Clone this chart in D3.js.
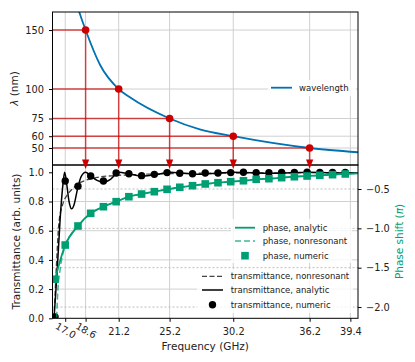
<!DOCTYPE html>
<html><head><meta charset="utf-8">
<script src="https://cdn.jsdelivr.net/npm/d3@7"></script>
<style>body{margin:0;background:#fff} svg{display:block;font-family:"DejaVu Sans",sans-serif}</style>
</head><body><svg id="c" width="415" height="362"></svg>
<script>
// ---- data ----
const xTicks = [17.0, 18.6, 21.2, 25.2, 30.2, 36.2, 39.4];
const lambdaTicks = [150, 100, 75, 60, 50];
const transTicks = [0.0, 0.2, 0.4, 0.6, 0.8, 1.0];
const phaseTicks = [-2.0, -1.5, -1.0, -0.5];
const resonanceFreq = [18.6, 21.2, 25.2, 30.2, 36.2];
const resonanceLambda = [150, 100, 75, 60, 50];
const wavelengthFreq = [17.9, 18.1, 18.6, 19.73, 21.2, 22.08, 25.2, 27.57, 30.2, 36.2, 40];
const wavelengthVal  = [172, 165.3, 150, 120.6, 100, 93, 75, 65.8, 60, 50, 46.4];
const numFreq = [16.2,17,18,19,20,21,22,23,24,25,26,27,28,29,30,31,32,33,34,35,36,37,38,39];
const transNumeric = [0.01,0.94,0.905,0.975,0.94,0.995,0.99,0.977,0.986,0.998,0.993,0.99,0.995,0.995,0.998,1.0,0.997,0.997,0.999,0.999,1.0,0.999,0.999,0.999];
const phaseNumeric = [-1.647,-1.212,-0.970,-0.809,-0.725,-0.661,-0.598,-0.564,-0.534,-0.504,-0.478,-0.458,-0.436,-0.42,-0.407,-0.395,-0.377,-0.369,-0.356,-0.344,-0.335,-0.326,-0.318,-0.309];
const transAnalyticFreq = [16.12,16.35,16.6,16.8,16.95,17.1,17.3,17.5,17.7,17.95,18.25,18.6,19.0,19.5,20.0,20.6,21.2,22.0,23.0,24.2,25.2,26.5,27.7,29,30.2,33.2,36.2,38.2,40];
const transAnalytic = [0,0.3,0.68,0.9,1.0,0.93,0.8,0.75,0.78,0.88,0.97,1.0,0.975,0.945,0.932,0.955,1.0,0.99,0.975,0.985,1.0,0.992,0.987,0.994,1.0,0.993,1.0,0.996,0.997];
const transNonresFreq = [16.12,16.3,16.5,16.8,17.2,17.6,18.0,18.6,19.5,21,23,26,30,35,40];
const transNonres = [0,0.35,0.65,0.78,0.85,0.89,0.92,0.945,0.965,0.978,0.986,0.992,0.995,0.997,0.998];
const phaseAnalyticFreq = [16.2,17,18,19,20,21,22,23,24,25,26,27,28,29,30,31,32,33,34,35,36,37,38,39,40];
const phaseAnalytic = [-1.647,-1.212,-0.970,-0.809,-0.725,-0.661,-0.598,-0.564,-0.534,-0.504,-0.478,-0.458,-0.436,-0.42,-0.407,-0.395,-0.377,-0.369,-0.356,-0.344,-0.335,-0.326,-0.318,-0.309,-0.300];
const phaseNonresFreq = [16.3,16.4,16.6,17.0,17.5,18,19,20,21,22,23,24,25,26,27,28,30,32,34,36,38,40];
const phaseNonres = [-2.25,-1.85,-1.52,-1.22,-1.07,-0.97,-0.81,-0.725,-0.66,-0.6,-0.562,-0.532,-0.505,-0.48,-0.458,-0.438,-0.407,-0.378,-0.356,-0.335,-0.318,-0.3];

// ---- layout ----
const W = 415, H = 362;
const L = 52.5, R = 358, T1 = 12, B1 = 165, B2 = 318.3;
const GREEN = "#009E73", BLUE = "#0072B2", RED = "#cc0000";

const svg = d3.select("#c");
const x = d3.scaleLinear().domain([16, 40]).range([L, R]);
const yL = d3.scaleLinear().domain([35.6, 165.3]).range([B1, T1]);
const yT = d3.scaleLinear().domain([0, 1.05]).range([B2, B1]);
const yP = d3.scaleLinear().domain([-2.143, -0.195]).range([B2, B1]);

const defs = svg.append("defs");
defs.append("clipPath").attr("id","clipTop").append("rect").attr("x",L).attr("y",T1).attr("width",R-L).attr("height",B1-T1);
defs.append("clipPath").attr("id","clipBot").append("rect").attr("x",L).attr("y",B1).attr("width",R-L).attr("height",B2-B1);

const gridCol = "#d0d0d0";
// ---- top panel grid ----
const gTop = svg.append("g");
gTop.selectAll(".vg").data(xTicks).join("line")
  .attr("x1", d=>x(d)).attr("x2", d=>x(d)).attr("y1", T1).attr("y2", B1)
  .attr("stroke", gridCol).attr("stroke-width", 1);
gTop.selectAll(".hg").data(lambdaTicks).join("line")
  .attr("x1", L).attr("x2", R).attr("y1", d=>yL(d)).attr("y2", d=>yL(d))
  .attr("stroke", gridCol).attr("stroke-width", 1);

// ---- bottom panel grid ----
const gBot = svg.append("g");
gBot.selectAll(".vg").data(xTicks).join("line")
  .attr("x1", d=>x(d)).attr("x2", d=>x(d)).attr("y1", B1).attr("y2", B2)
  .attr("stroke", gridCol).attr("stroke-width", 1);
gBot.selectAll(".hg").data(transTicks.slice(1,5)).join("line")
  .attr("x1", L).attr("x2", R).attr("y1", d=>yT(d)).attr("y2", d=>yT(d))
  .attr("stroke", gridCol).attr("stroke-width", 1);
gBot.selectAll(".pg").data(phaseTicks).join("line")
  .attr("x1", L).attr("x2", R).attr("y1", d=>yP(d)).attr("y2", d=>yP(d))
  .attr("stroke", "#bdbdbd").attr("stroke-width", 1).attr("stroke-dasharray", "2,2");

// ---- top panel content ----
const topC = svg.append("g").attr("clip-path", "url(#clipTop)");
const wl = wavelengthFreq.map((f,i)=>[f, wavelengthVal[i]]);
topC.append("path").datum(wl)
  .attr("d", d3.line().x(d=>x(d[0])).y(d=>yL(d[1])).curve(d3.curveMonotoneX))
  .attr("fill","none").attr("stroke", BLUE).attr("stroke-width", 1.8);

// red guide lines
const res = resonanceFreq.map((f,i)=>({f, l: resonanceLambda[i]}));
const arrowTip = yT(1.022);
svg.append("g").selectAll("line").data(res).join("line")
  .attr("x1", L).attr("x2", d=>x(d.f)).attr("y1", d=>yL(d.l)).attr("y2", d=>yL(d.l))
  .attr("stroke", RED).attr("stroke-width", 1.5).attr("stroke-opacity", 0.7);
svg.append("g").selectAll("line").data(res).join("line")
  .attr("x1", d=>x(d.f)).attr("x2", d=>x(d.f)).attr("y1", d=>yL(d.l)).attr("y2", arrowTip - 6)
  .attr("stroke", RED).attr("stroke-width", 1.5).attr("stroke-opacity", 0.7);

// top legend
svg.append("rect").attr("x", 268).attr("y", 80).attr("width", 88).attr("height", 16).attr("fill", "#fff").attr("opacity", 0.85);
svg.append("line").attr("x1", 271).attr("x2", 292).attr("y1", 87.7).attr("y2", 87.7).attr("stroke", BLUE).attr("stroke-width", 1.8);
svg.append("text").attr("x", 299).attr("y", 87.7).attr("dy", "0.35em").attr("font-size", 8.5).attr("fill", "#222").text("wavelength");

// ---- bottom panel content ----
const botC = svg.append("g").attr("clip-path", "url(#clipBot)");
const lineT = d3.line().x(d=>x(d[0])).y(d=>yT(d[1])).curve(d3.curveMonotoneX);
const lineP = d3.line().x(d=>x(d[0])).y(d=>yP(d[1])).curve(d3.curveMonotoneX);

botC.append("path").datum(transNonresFreq.map((f,i)=>[f, transNonres[i]]))
  .attr("d", lineT).attr("fill","none").attr("stroke","#444").attr("stroke-width",1.3).attr("stroke-dasharray","5,2.5");
botC.append("path").datum(transAnalyticFreq.map((f,i)=>[f, transAnalytic[i]]))
  .attr("d", lineT).attr("fill","none").attr("stroke","#000").attr("stroke-width",1.5);
botC.selectAll(".circ").data(numFreq.map((f,i)=>[f, transNumeric[i]])).join("circle")
  .attr("cx", d=>x(d[0])).attr("cy", d=>yT(d[1])).attr("r", 3.7).attr("fill", "#000");

botC.append("path").datum(phaseNonresFreq.map((f,i)=>[f, phaseNonres[i]]))
  .attr("d", lineP).attr("fill","none").attr("stroke", GREEN).attr("stroke-opacity",0.75).attr("stroke-width",1.5).attr("stroke-dasharray","6,3");
botC.append("path").datum(phaseAnalyticFreq.map((f,i)=>[f, phaseAnalytic[i]]))
  .attr("d", lineP).attr("fill","none").attr("stroke", GREEN).attr("stroke-width",1.8);
botC.selectAll(".sq").data(numFreq.map((f,i)=>[f, phaseNumeric[i]])).join("rect")
  .attr("x", d=>x(d[0])-3.8).attr("y", d=>yP(d[1])-3.8).attr("width", 7.6).attr("height", 7.6).attr("fill", GREEN);

// ---- legends bottom ----
svg.append("rect").attr("x", 231).attr("y", 219).attr("width", 121).attr("height", 44).attr("fill","#fff").attr("opacity",0.8);
svg.append("rect").attr("x", 197).attr("y", 269).attr("width", 156).attr("height", 44).attr("fill","#fff").attr("opacity",0.8);
const leg1 = [
  {label:"phase, analytic", y:227.7, type:"solid"},
  {label:"phase, nonresonant", y:241, type:"dash"},
  {label:"phase, numeric", y:255.7, type:"square"}
];
const lg1 = svg.append("g");
leg1.forEach(e=>{
  if (e.type==="solid") lg1.append("line").attr("x1",235).attr("x2",255).attr("y1",e.y).attr("y2",e.y).attr("stroke",GREEN).attr("stroke-width",1.8);
  if (e.type==="dash") lg1.append("line").attr("x1",235).attr("x2",255).attr("y1",e.y).attr("y2",e.y).attr("stroke",GREEN).attr("stroke-opacity",0.75).attr("stroke-width",1.5).attr("stroke-dasharray","6,3");
  if (e.type==="square") lg1.append("rect").attr("x",245-3.8).attr("y",e.y-3.8).attr("width",7.6).attr("height",7.6).attr("fill",GREEN);
  lg1.append("text").attr("x",262.7).attr("y",e.y).attr("dy","0.35em").attr("font-size",8.5).attr("fill","#222").text(e.label);
});
const leg2 = [
  {label:"transmittance, nonresonant", y:276.3, type:"dash"},
  {label:"transmittance, analytic", y:290, type:"solid"},
  {label:"transmittance, numeric", y:304.7, type:"circle"}
];
const lg2 = svg.append("g");
leg2.forEach(e=>{
  if (e.type==="solid") lg2.append("line").attr("x1",202).attr("x2",223).attr("y1",e.y).attr("y2",e.y).attr("stroke","#000").attr("stroke-width",1.5);
  if (e.type==="dash") lg2.append("line").attr("x1",202).attr("x2",223).attr("y1",e.y).attr("y2",e.y).attr("stroke","#444").attr("stroke-width",1.3).attr("stroke-dasharray","5,2.5");
  if (e.type==="circle") lg2.append("circle").attr("cx",212.5).attr("cy",e.y).attr("r",3.7).attr("fill","#000");
  lg2.append("text").attr("x",230.7).attr("y",e.y).attr("dy","0.35em").attr("font-size",8.5).attr("fill","#222").text(e.label);
});

// ---- spines ----
svg.append("rect").attr("x",L).attr("y",T1).attr("width",R-L).attr("height",B1-T1).attr("fill","none").attr("stroke","#000").attr("stroke-width",1);
svg.append("rect").attr("x",L).attr("y",B1).attr("width",R-L).attr("height",B2-B1).attr("fill","none").attr("stroke","#000").attr("stroke-width",1);

// red points and arrows on top
svg.append("g").selectAll("circle").data(res).join("circle")
  .attr("cx", d=>x(d.f)).attr("cy", d=>yL(d.l)).attr("r", 3.8).attr("fill", RED);
svg.append("g").selectAll("path").data(res).join("path")
  .attr("d", d=>`M${x(d.f)-3.6},${arrowTip-9.5}L${x(d.f)+3.6},${arrowTip-9.5}L${x(d.f)},${arrowTip}Z`)
  .attr("fill", RED);

// ---- axes ----
function styleAxis(g){
  g.select(".domain").remove();
  g.selectAll("line").attr("stroke","#000").attr("stroke-width",1);
  g.selectAll("text").attr("font-size",9.8).attr("fill","#222").attr("font-family","DejaVu Sans, sans-serif");
}
svg.append("g").attr("transform",`translate(${L},0)`)
  .call(d3.axisLeft(yL).tickValues(lambdaTicks).tickSize(3.5).tickPadding(5).tickFormat(d3.format("d")))
  .call(styleAxis);
svg.append("g").attr("transform",`translate(${L},0)`)
  .call(d3.axisLeft(yT).tickValues(transTicks).tickSize(3.5).tickPadding(5).tickFormat(d3.format(".1f")))
  .call(styleAxis);
svg.append("g").attr("transform",`translate(${R},0)`)
  .call(d3.axisRight(yP).tickValues(phaseTicks).tickSize(3.5).tickPadding(4.5).tickFormat(d3.format(".1f")))
  .call(styleAxis);
const xAx = svg.append("g").attr("transform",`translate(0,${B2})`)
  .call(d3.axisBottom(x).tickValues(xTicks).tickSize(3.5).tickPadding(6).tickFormat(d3.format(".1f")))
  .call(styleAxis);
xAx.selectAll(".tick").filter(d=>d===17.0||d===18.6).select("text")
  .attr("y", 12.2).attr("dy","0.35em").attr("text-anchor","middle")
  .attr("transform","rotate(30,0,12.2)");

// ---- labels ----
svg.append("text").attr("transform","translate(14,88.5) rotate(-90)").attr("text-anchor","middle").attr("dy","0.35em")
  .attr("font-size",10.5).attr("fill","#222")
  .call(t=>{t.append("tspan").attr("font-style","italic").text("λ"); t.append("tspan").text(" (nm)");});
svg.append("text").attr("transform","translate(16,241.5) rotate(-90)").attr("text-anchor","middle").attr("dy","0.35em")
  .attr("font-size",10.5).attr("fill","#222").text("Transmittance (arb. units)");
svg.append("text").attr("transform","translate(399,241.5) rotate(-90)").attr("text-anchor","middle").attr("dy","0.35em")
  .attr("font-size",10.5).attr("fill",GREEN)
  .call(t=>{t.append("tspan").text("Phase shift ("); t.append("tspan").attr("font-style","italic").text("π"); t.append("tspan").text(")");});
svg.append("text").attr("x",(L+R)/2).attr("y",350).attr("text-anchor","middle")
  .attr("font-size",10.5).attr("fill","#222").text("Frequency (GHz)");
</script></body></html>
